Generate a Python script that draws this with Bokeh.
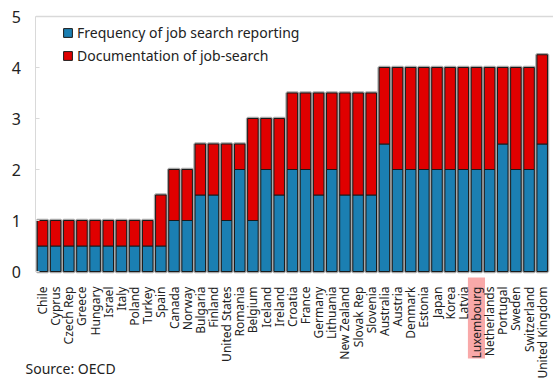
import math
from bokeh.plotting import figure
from bokeh.models import (Range1d, Legend, LegendItem, FixedTicker, ColumnDataSource,
                          LinearAxis, Label)
from bokeh.embed import file_html
from bokeh.resources import INLINE

countries = ["Chile", "Cyprus", "Czech Rep", "Greece", "Hungary", "Israel", "Italy", "Poland",
             "Turkey", "Spain", "Canada", "Norway", "Bulgaria", "Finland", "United States",
             "Romania", "Belgium", "Iceland", "Ireland", "Croatia", "France", "Germany",
             "Lithuania", "New Zealand", "Slovak Rep", "Slovenia", "Australia", "Austria",
             "Denmark", "Estonia", "Japan", "Korea", "Latvia", "Luxembourg", "Netherlands",
             "Portugal", "Sweden", "Switzerland", "United Kingdom"]
frequency = [0.5, 0.5, 0.5, 0.5, 0.5, 0.5, 0.5, 0.5, 0.5, 0.5, 1, 1, 1.5, 1.5, 1,
             2, 1, 2, 1.5, 2, 2, 1.5, 2, 1.5, 1.5, 1.5, 2.5, 2,
             2, 2, 2, 2, 2, 2, 2, 2.5, 2, 2, 2.5]
documentation = [0.5, 0.5, 0.5, 0.5, 0.5, 0.5, 0.5, 0.5, 0.5, 1, 1, 1, 1, 1, 1.5,
                 0.5, 2, 1, 1.5, 1.5, 1.5, 2, 1.5, 2, 2, 2, 1.5, 2,
                 2, 2, 2, 2, 2, 2, 2, 1.5, 2, 2, 1.75]
series_names = ["Frequency of job search reporting", "Documentation of job-search"]
highlight = "Luxembourg"
y_ticks = [0, 1, 2, 3, 4, 5]
source_note = "Source: OECD"

FONT = "Noto Sans"
BLUE = "#1b7fb2"
RED = "#e00000"
GREY = "#d9d9d9"
XLAB_SIZE = "12px"
XLAB_STANDOFF = 9

W, H = 553, 380
# layout in pixels: first category centre, px per category, zero line, px per unit
X0_PX, CAT_PX = 42.0, 13.15
Y0_PX, UNIT_PX = 271.0, 51.0

n = len(countries)
pos = list(range(n))
x_start = -X0_PX / CAT_PX
x_end = x_start + W / CAT_PX
y_start = -(H - Y0_PX) / UNIT_PX
y_end = Y0_PX / UNIT_PX

src = ColumnDataSource(dict(pos=pos, country=countries, freq=frequency, doc=documentation))

p = figure(width=W, height=H, x_range=Range1d(x_start, x_end), y_range=Range1d(y_start, y_end),
           output_backend="svg", toolbar_location=None, min_border=0,
           x_axis_location=None, y_axis_location=None)
p.xgrid.grid_line_color = None
p.ygrid.grid_line_color = None
p.outline_line_color = None

# pink highlight behind the Luxembourg tick label
hi = countries.index(highlight)
hl_top = -6 / UNIT_PX
hl_bot = -87 / UNIT_PX
p.rect(x=[hi], y=[(hl_top + hl_bot) / 2], width=1.3, height=hl_top - hl_bot,
       fill_color="#f9a9a9", line_color=None)

# top border of the plot area
p.segment(x0=[-0.5], x1=[x_end], y0=[max(y_ticks)], y1=[max(y_ticks)],
          line_color=GREY, line_width=1.5)

# grey halo behind bars
p.vbar_stack(["freq", "doc"], x="pos", width=0.8, source=src,
             fill_color=[BLUE, RED], line_color="#a8a8a8", line_width=3.5)
rs = p.vbar_stack(["freq", "doc"], x="pos", width=0.8, source=src,
                  fill_color=[BLUE, RED], line_color="#1a1a1a", line_width=1)

legend = Legend(items=[LegendItem(label=series_names[0], renderers=[rs[0]]),
                       LegendItem(label=series_names[1], renderers=[rs[1]])],
                location=(62, H - 22 - 43), orientation="vertical")
legend.padding = 0
legend.margin = 0
legend.spacing = 3
legend.glyph_width = 11
legend.glyph_height = 11
legend.label_height = 20
legend.label_standoff = 4
legend.label_text_font = FONT
legend.label_text_font_size = "14px"
legend.label_text_color = "#222222"
legend.border_line_color = None
legend.background_fill_alpha = 0
p.add_layout(legend)

yaxis = LinearAxis(fixed_location=-0.5, ticker=FixedTicker(ticks=y_ticks), bounds=(0, 5))
yaxis.axis_line_color = GREY
yaxis.major_tick_in = 4
yaxis.major_tick_out = 0
yaxis.major_tick_line_color = GREY
yaxis.minor_tick_line_color = None
yaxis.major_label_standoff = 15
yaxis.major_label_text_font = FONT
yaxis.major_label_text_font_size = "16px"
yaxis.major_label_text_color = "#222222"
p.add_layout(yaxis, "left")

xaxis = LinearAxis(fixed_location=0, ticker=FixedTicker(ticks=pos),
                   major_label_overrides={i: c for i, c in zip(pos, countries)})
xaxis.axis_line_color = None
xaxis.major_tick_line_color = None
xaxis.minor_tick_line_color = None
xaxis.major_label_orientation = math.pi / 2
xaxis.major_label_standoff = XLAB_STANDOFF
xaxis.major_label_text_font = FONT
xaxis.major_label_text_font_size = XLAB_SIZE
xaxis.major_label_text_color = "#222222"
p.add_layout(xaxis, "below")

p.add_layout(Label(x=25, y=3, x_units="screen", y_units="screen", text=source_note,
                   text_font=FONT, text_font_size="14px", text_color="#222222",
                   text_baseline="bottom"))

open("out.html", "w").write(file_html(p, INLINE))
